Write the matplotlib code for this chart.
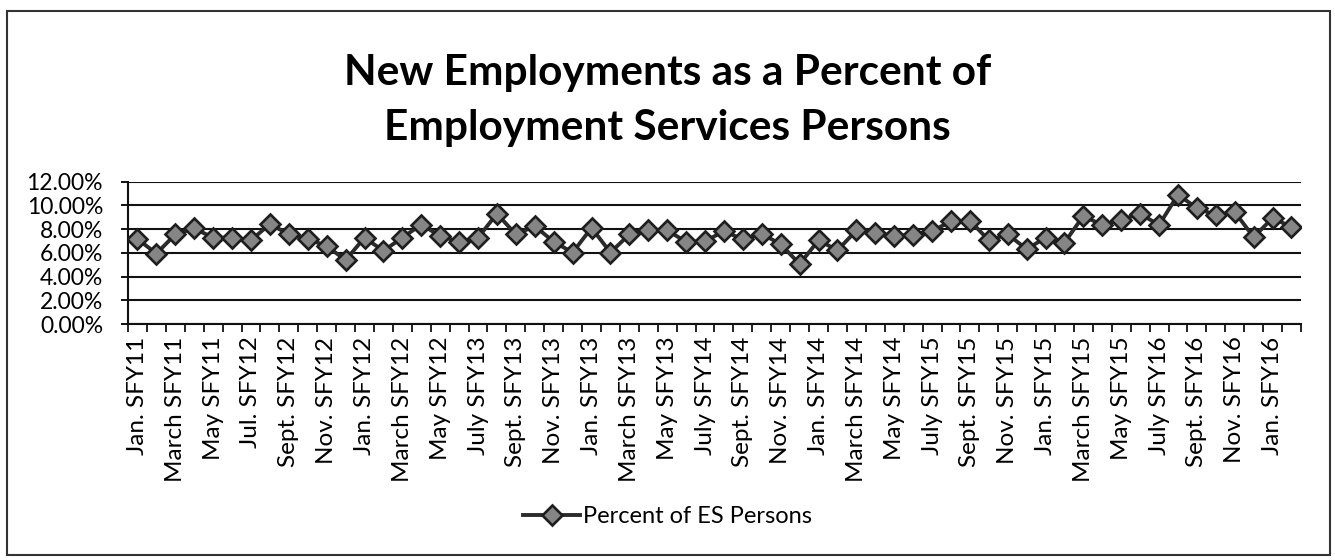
import numpy as np
import matplotlib
matplotlib.use("Agg")
import matplotlib.pyplot as plt
from matplotlib.patches import Rectangle
from matplotlib.ticker import FuncFormatter, MultipleLocator

TITLE = "New Employments as a Percent of\nEmployment Services Persons"
SERIES_NAME = "Percent of ES Persons"

# one value per month, Jan. SFY11 .. Feb. SFY16 (percent)
values = [
    7.17, 5.94, 7.56, 8.06, 7.28, 7.28, 7.06, 8.44, 7.56, 7.17,
    6.58, 5.39, 7.28, 6.17, 7.28, 8.39, 7.42, 6.94, 7.28, 9.30,
    7.56, 8.25, 6.94, 6.03, 8.11, 6.03, 7.56, 7.97, 7.89, 6.94,
    6.98, 7.83, 7.14, 7.61, 6.72, 5.06, 7.06, 6.22, 7.89, 7.69,
    7.42, 7.50, 7.83, 8.67, 8.72, 7.06, 7.56, 6.31, 7.28, 6.86,
    9.12, 8.33, 8.81, 9.28, 8.36, 10.90, 9.78, 9.17, 9.44, 7.33,
    8.94, 8.17,
]

# labels shown on every other month
tick_labels = [
    "Jan. SFY11", "March SFY11", "May SFY11", "Jul. SFY12", "Sept. SFY12",
    "Nov. SFY12", "Jan. SFY12", "March SFY12", "May SFY12", "July SFY13",
    "Sept. SFY13", "Nov. SFY13", "Jan. SFY13", "March SFY13", "May SFY13",
    "July SFY14", "Sept. SFY14", "Nov. SFY14", "Jan. SFY14", "March SFY14",
    "May SFY14", "July SFY15", "Sept. SFY15", "Nov. SFY15", "Jan. SFY15",
    "March SFY15", "May SFY15", "July SFY16", "Sept. SFY16", "Nov. SFY16",
    "Jan. SFY16",
]

FONT = ["Lato", "DejaVu Sans"]
plt.rcParams["font.family"] = FONT

fig = plt.figure(figsize=(13.35, 5.6), dpi=100)
ax = fig.add_axes([0.0959, 0.4214, 0.8786, 0.2541])

x = np.arange(len(values))
ax.plot(x, values, color="#2b2b2b", lw=2.8, marker="D", markersize=10.5,
        markerfacecolor="#858585", markeredgecolor="#1e1e1e",
        markeredgewidth=1.9, label=SERIES_NAME, zorder=3)

ax.set_xlim(-0.5, len(values) - 0.5)
ax.set_ylim(0, 12)
ax.yaxis.set_major_locator(MultipleLocator(2))
ax.yaxis.set_major_formatter(FuncFormatter(lambda v, p: f"{v:.2f}%"))
ax.grid(axis="y", color="#111111", lw=1.5)
ax.set_axisbelow(True)

ax.set_xticks(x[::2])
ax.set_xticklabels(tick_labels, rotation=90)
ax.set_xticks(np.arange(len(values) + 1) - 0.5, minor=True)
ax.tick_params(axis="x", which="major", length=0, pad=9, labelsize=17.5)
ax.tick_params(axis="x", which="minor", length=6, width=1.3, color="#111111")
ax.tick_params(axis="y", length=5, width=1.3, labelsize=16.5, pad=13)

for side in ["top", "right"]:
    ax.spines[side].set_visible(False)
for side in ["left", "bottom"]:
    ax.spines[side].set_color("#111111")
    ax.spines[side].set_linewidth(1.5)

fig.text(0.5, 0.82, TITLE, ha="center", va="center", fontsize=30.5,
         fontweight="bold", linespacing=1.55)

fig.legend(loc="center", bbox_to_anchor=(0.5, 0.077), frameon=False,
           fontsize=17, handlelength=2.4, handletextpad=0.1)

fig.patches.append(Rectangle((0.0055, 0.009), 0.9905, 0.972,
                             transform=fig.transFigure, fill=False,
                             edgecolor="#333333", lw=1.5))

fig.savefig("out.png", dpi=100)
